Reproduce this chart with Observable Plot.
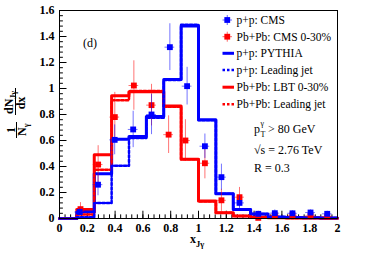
<!DOCTYPE html>
<html>
<head>
<meta charset="utf-8">
<script src="https://cdn.jsdelivr.net/npm/d3@7"></script>
<script src="https://cdn.jsdelivr.net/npm/@observablehq/plot@0.6"></script>
<style>
  html, body { margin: 0; padding: 0; background: white; }
  #chart { width: 365px; height: 262px; }
</style>
</head>
<body>
<div id="chart"></div>
<script>
// ---- Data ----
const binEdges = [0, 0.125, 0.25, 0.375, 0.5, 0.625, 0.75, 0.875, 1.0, 1.125, 1.25, 1.375, 1.5, 1.625, 1.75, 1.875, 2.0];
const ppPythia  = [0, 0.05, 0.345, 0.61, 0.63, 0.785, 1.07, 1.48, 0.76, 0.19, 0.07, 0.035, 0.012, 0.008, 0.005, 0.004];
const ppLeading = [0, 0.01, 0.12, 0.405, 0.62, 0.775, 1.065, 1.49, 0.755, 0.19, 0.07, 0.035, 0.012, 0.008, 0.005, 0.004];
const pbLBT     = [0, 0.07, 0.49, 0.945, 0.975, 0.975, 0.865, 0.455, 0.135, 0.045, 0.02, 0.01, 0.006, 0.004, 0.003, 0.002];
const pbLeading = [0, 0.03, 0.375, 0.91, 0.98, 0.98, 0.86, 0.455, 0.13, 0.045, 0.02, 0.01, 0.006, 0.004, 0.003, 0.002];

const ppCmsX   = [0.146, 0.277, 0.397, 0.53, 0.662, 0.794, 0.918, 1.046, 1.165, 1.295, 1.43, 1.549, 1.676, 1.806, 1.926];
const ppCmsY   = [0.05, 0.26, 0.605, 0.685, 0.80, 1.318, 1.018, 0.556, 0.318, 0.12, 0.036, 0.041, 0.04, 0.046, 0.036];
const ppCmsErr = [0.03, 0.085, 0.115, 0.14, 0.155, 0.18, 0.145, 0.094, 0.1, 0.055, 0.02, 0.025, 0.02, 0.02, 0.02];

const pbCmsX   = [0.151, 0.278, 0.398, 0.535, 0.662, 0.785, 0.906, 1.046, 1.165, 1.295, 1.43, 1.549, 1.676, 1.806, 1.926];
const pbCmsY   = [0.072, 0.415, 0.78, 1.023, 0.872, 0.645, 0.60, 0.425, 0.14, 0.164, 0.005, 0.025, 0.025, 0.02, 0.015];
const pbCmsErr = [0.05, 0.145, 0.19, 0.19, 0.16, 0.145, 0.16, 0.12, 0.085, 0.075, 0.02, 0.02, 0.02, 0.02, 0.02];
const xHalfWidth = 0.035;

const xTickValues = [0, 0.2, 0.4, 0.6, 0.8, 1, 1.2, 1.4, 1.6, 1.8, 2];
const xTickLabels = ["0", "0.2", "0.4", "0.6", "0.8", "1", "1.2", "1.4", "1.6", "1.8", "2"];
const yTickValues = [0, 0.2, 0.4, 0.6, 0.8, 1, 1.2, 1.4, 1.6];
const yTickLabels = ["0", "0.2", "0.4", "0.6", "0.8", "1", "1.2", "1.4", "1.6"];

const legendLabels = ["p+p: CMS", "Pb+Pb: CMS 0-30%", "p+p: PYTHIA", "p+p: Leading jet", "Pb+Pb: LBT 0-30%", "Pb+Pb: Leading jet"];

const BLUE = "#0000ff", RED = "#ff0000";

// ---- Build tables ----
function stepData(vals) {
  const d = vals.map((v, i) => ({x: binEdges[i], y: v}));
  d.push({x: binEdges[binEdges.length - 1], y: vals[vals.length - 1]});
  return d;
}
function pts(xs, ys, es) { return xs.map((x, i) => ({x, y: ys[i], e: es[i]})); }
const ppPts = pts(ppCmsX, ppCmsY, ppCmsErr);
const pbPts = pts(pbCmsX, pbCmsY, pbCmsErr);

const xMinor = d3.range(0, 2.0001, 0.04);
const yMinor = d3.range(0, 1.6001, 0.04);

function errMarks(data, color) {
  return [
    Plot.ruleX(data, {x: "x", y1: d => d.y - d.e, y2: d => d.y + d.e, stroke: color, strokeOpacity: 0.55, strokeWidth: 1}),
    Plot.ruleY(data, {y: "y", x1: d => d.x - xHalfWidth, x2: d => d.x + xHalfWidth, stroke: color, strokeOpacity: 0.55, strokeWidth: 1}),
    Plot.dot(data, {x: "x", y: "y", symbol: "square", r: 3.3, fill: color, stroke: "none"})
  ];
}

const chart = Plot.plot({
  width: 365,
  height: 262,
  marginLeft: 59,
  marginRight: 28,
  marginTop: 10,
  marginBottom: 44,
  style: {fontFamily: "'Liberation Serif', 'DejaVu Serif', serif", background: "white", color: "black"},
  x: {domain: [0, 2], label: null},
  y: {domain: [0, 1.6], label: null},
  marks: [
    // tick marks (inside frame)
    Plot.ruleX(xMinor, {x: d => d, y1: 0, y2: 0.028, stroke: "black", strokeWidth: 1}),
    Plot.ruleX(xTickValues, {x: d => d, y1: 0, y2: 0.056, stroke: "black", strokeWidth: 1}),
    Plot.ruleY(yMinor, {y: d => d, x1: 0, x2: 0.028, stroke: "black", strokeWidth: 1}),
    Plot.ruleY(yTickValues, {y: d => d, x1: 0, x2: 0.054, stroke: "black", strokeWidth: 1}),
    Plot.axisX({ticks: xTickValues, tickSize: 0, tickPadding: 5, tickFormat: (d, i) => xTickLabels[i], fontSize: 12, fontWeight: "bold", label: null}),
    Plot.axisY({ticks: yTickValues, tickSize: 0, tickPadding: 5, tickFormat: (d, i) => yTickLabels[i], fontSize: 12, fontWeight: "bold", label: null}),
    // histograms
    Plot.line(stepData(pbLBT), {x: "x", y: "y", curve: "step-after", stroke: RED, strokeWidth: 3}),
    Plot.line(stepData(ppPythia), {x: "x", y: "y", curve: "step-after", stroke: BLUE, strokeWidth: 3}),
    Plot.line(stepData(pbLeading), {x: "x", y: "y", curve: "step-after", stroke: RED, strokeWidth: 2.5, strokeDasharray: "2.5,2"}),
    Plot.line(stepData(ppLeading), {x: "x", y: "y", curve: "step-after", stroke: BLUE, strokeWidth: 2.5, strokeDasharray: "2.5,2"}),
    // data points
    ...errMarks(pbPts, RED),
    ...errMarks(ppPts, BLUE),
    Plot.frame({stroke: "black", strokeWidth: 1})
  ]
});
document.getElementById("chart").appendChild(chart);

// ---- Annotations, legend, axis titles ----
const svg = d3.select(chart);
const FONT = "'Liberation Serif', 'DejaVu Serif', serif";
const ann = svg.append("g").attr("font-family", FONT).attr("fill", "black")
  .attr("font-weight", "normal").attr("text-anchor", "start");

// panel label
ann.append("text").attr("x", 83).attr("y", 47).attr("font-size", 12).text("(d)");

// legend
const legX0 = 222.5, legX1 = 234, legTextX = 236.5;
const legY = [20, 36.7, 53.3, 70, 87.2, 104.3];
const legSpec = [
  {type: "pt", color: BLUE},
  {type: "pt", color: RED},
  {type: "line", color: BLUE},
  {type: "dot", color: BLUE},
  {type: "line", color: RED},
  {type: "dot", color: RED}
];
legSpec.forEach((s, i) => {
  const y = legY[i];
  const cx = (legX0 + legX1) / 2 - 1;
  if (s.type === "pt") {
    ann.append("line").attr("x1", legX0).attr("x2", legX1 - 2).attr("y1", y).attr("y2", y).attr("stroke", s.color).attr("stroke-opacity", 0.6);
    ann.append("line").attr("x1", cx).attr("x2", cx).attr("y1", y - 5).attr("y2", y + 5).attr("stroke", s.color).attr("stroke-opacity", 0.6);
    ann.append("rect").attr("x", cx - 2.9).attr("y", y - 2.9).attr("width", 5.8).attr("height", 5.8).attr("fill", s.color);
  } else {
    ann.append("line").attr("x1", legX0).attr("x2", legX1).attr("y1", y).attr("y2", y)
      .attr("stroke", s.color).attr("stroke-width", s.type === "line" ? 3 : 2.5)
      .attr("stroke-dasharray", s.type === "dot" ? "2.5,2" : null);
  }
  ann.append("text").attr("x", legTextX).attr("y", y).attr("dy", "0.35em").attr("font-size", 11.5).text(legendLabels[i]);
});

// kinematics text
const t1 = ann.append("text").attr("x", 254).attr("y", 133).attr("font-size", 12);
t1.append("tspan").text("p");
t1.append("tspan").attr("x", 260.5).attr("y", 137).attr("font-size", 8).text("T");
t1.append("tspan").attr("x", 260.5).attr("y", 126).attr("font-size", 8).text("γ");
t1.append("tspan").attr("x", 268).attr("y", 133).text("> 80 GeV");
ann.append("text").attr("x", 254).attr("y", 154).attr("font-size", 12).text("√s = 2.76 TeV");
ann.append("text").attr("x", 254).attr("y", 172).attr("font-size", 12).text("R = 0.3");

// x axis title
const xt = ann.append("text").attr("x", 190).attr("y", 243).attr("font-size", 12).attr("font-weight", "bold");
xt.append("tspan").text("x");
xt.append("tspan").attr("dy", 4).attr("font-size", 8.5).text("Jγ");

// y axis title (rotated fractions)
const yt = ann.append("g").attr("transform", "rotate(-90)").attr("font-weight", "bold");
// 1 / N_gamma  (page y centre ~130)
yt.append("text").attr("x", -130).attr("y", 14.5).attr("font-size", 12).attr("text-anchor", "middle").text("1");
yt.append("line").attr("x1", -138).attr("x2", -122).attr("y1", 16.5).attr("y2", 16.5).attr("stroke", "black").attr("stroke-width", 1);
const nt = yt.append("text").attr("x", -136).attr("y", 26).attr("font-size", 12).attr("text-anchor", "start");
nt.append("tspan").text("N");
nt.append("tspan").attr("dy", 3).attr("font-size", 8).text("γ");
// dN_Jgamma / dx  (page y centre ~101)
const dn = yt.append("text").attr("x", -114).attr("y", 12.5).attr("font-size", 12).attr("text-anchor", "start");
dn.append("tspan").text("dN");
dn.append("tspan").attr("dy", 3).attr("font-size", 8).text("Jγ");
yt.append("line").attr("x1", -115).attr("x2", -88).attr("y1", 15.5).attr("y2", 15.5).attr("stroke", "black").attr("stroke-width", 1);
yt.append("text").attr("x", -103).attr("y", 25).attr("font-size", 12).attr("text-anchor", "middle").text("dx");
</script>
</body>
</html>
